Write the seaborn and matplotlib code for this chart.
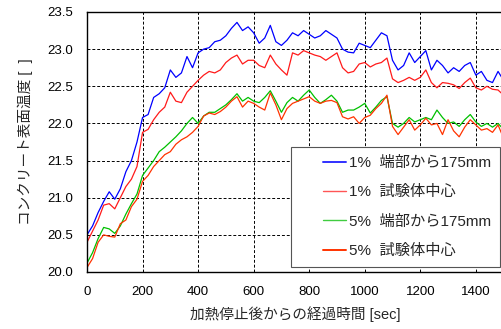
import numpy as np
import pandas as pd
import matplotlib
matplotlib.use("Agg")
import matplotlib.pyplot as plt
from matplotlib.lines import Line2D
from matplotlib.legend_handler import HandlerLine2D
import seaborn as sns

time_sec = list(range(0, 1501, 20))

edge_1pct = [20.50, 20.62, 20.80, 20.95, 21.08, 20.98, 21.12, 21.35, 21.50, 21.75,
             22.08, 22.12, 22.35, 22.40, 22.48, 22.72, 22.62, 22.68, 22.90, 22.75,
             22.95, 23.00, 23.02, 23.10, 23.12, 23.18, 23.28, 23.36, 23.25, 23.30,
             23.22, 23.08, 23.15, 23.32, 23.10, 23.05, 23.12, 23.22, 23.18, 23.25,
             23.20, 23.15, 23.18, 23.25, 23.20, 23.15, 23.00, 22.96, 22.95, 23.08,
             23.05, 23.02, 23.12, 23.22, 23.18, 22.85, 22.72, 22.78, 22.95, 22.82,
             22.90, 22.98, 22.72, 22.85, 22.78, 22.68, 22.75, 22.70, 22.78, 22.82,
             22.65, 22.70, 22.58, 22.55, 22.70, 22.58]

center_1pct = [20.40, 20.55, 20.70, 20.90, 20.92, 20.85, 21.00, 21.15, 21.25, 21.42,
               21.88, 21.92, 22.05, 22.15, 22.22, 22.42, 22.30, 22.28, 22.42, 22.50,
               22.58, 22.65, 22.70, 22.68, 22.72, 22.82, 22.88, 22.92, 22.80, 22.85,
               22.85, 22.78, 22.75, 22.92, 22.80, 22.72, 22.65, 22.95, 22.92, 22.98,
               22.95, 22.92, 22.90, 22.85, 22.90, 22.95, 22.75, 22.68, 22.70, 22.80,
               22.82, 22.76, 22.80, 22.82, 22.88, 22.60, 22.55, 22.58, 22.62, 22.58,
               22.62, 22.72, 22.55, 22.48, 22.55, 22.54, 22.52, 22.47, 22.55, 22.61,
               22.48, 22.45, 22.50, 22.46, 22.45, 22.38]

edge_5pct = [20.12, 20.26, 20.45, 20.60, 20.58, 20.52, 20.62, 20.78, 20.92, 21.05,
             21.30, 21.40, 21.50, 21.62, 21.68, 21.75, 21.82, 21.90, 22.00, 22.08,
             22.00, 22.10, 22.15, 22.15, 22.20, 22.25, 22.32, 22.40, 22.30, 22.35,
             22.30, 22.28, 22.35, 22.44, 22.30, 22.15, 22.28, 22.35, 22.30, 22.38,
             22.45, 22.35, 22.27, 22.32, 22.38, 22.30, 22.15, 22.18, 22.18, 22.22,
             22.27, 22.14, 22.22, 22.31, 22.36, 22.00, 21.95, 22.00, 22.08, 22.02,
             22.05, 22.08, 22.05, 22.18, 22.08, 22.00, 22.02, 21.96, 22.05, 22.12,
             22.02, 21.96, 22.00, 21.95, 22.00, 21.92]

center_5pct = [20.06, 20.18, 20.40, 20.50, 20.48, 20.47, 20.65, 20.70, 20.88, 20.98,
               21.22, 21.30, 21.42, 21.50, 21.58, 21.62, 21.72, 21.78, 21.82, 21.88,
               21.96, 22.10, 22.14, 22.12, 22.16, 22.22, 22.30, 22.36, 22.22, 22.30,
               22.27, 22.22, 22.18, 22.41, 22.25, 22.05, 22.20, 22.27, 22.30, 22.33,
               22.36, 22.30, 22.27, 22.30, 22.31, 22.28, 22.09, 22.06, 22.09, 22.00,
               22.08, 22.11, 22.20, 22.27, 22.38, 21.96, 21.85, 21.95, 22.05, 21.91,
               21.98, 22.07, 21.98, 22.00, 21.85, 22.05, 21.90, 21.82, 21.95, 22.05,
               21.98, 21.91, 21.93, 21.88, 21.98, 21.80]

series_labels = ["1%  端部から175mm", "1%  試験体中心", "5%  端部から175mm", "5%  試験体中心"]
x_ticks = [0, 200, 400, 600, 800, 1000, 1200, 1400]
y_ticks = [20.0, 20.5, 21.0, 21.5, 22.0, 22.5, 23.0, 23.5]

line_colors = ["#0000FF", "#FF1A1A", "#00C000", "#FF3300"]
legend_colors = ["#3030FF", "#FF5555", "#40CC40", "#FF3300"]
legend_widths = [1.4, 1.0, 1.0, 1.4]

df = pd.DataFrame({
    "time": time_sec * 4,
    "temp": edge_1pct + center_1pct + edge_5pct + center_5pct,
    "series": sum([[lab] * len(time_sec) for lab in series_labels], []),
})

sns.set_style("white")
plt.rcParams["font.family"] = ["Liberation Sans", "Noto Sans CJK JP", "DejaVu Sans"]

fig = plt.figure(figsize=(5.02, 3.29), dpi=100)
ax = fig.add_axes([87 / 502, 1 - 272 / 329, 416.6 / 502, 260 / 329])

sns.lineplot(data=df, x="time", y="temp", hue="series", hue_order=series_labels,
             palette=line_colors, linewidth=0.9, ax=ax, legend=False)

ax.set_xlim(0, 1500)
ax.set_ylim(20.0, 23.5)
ax.set_xticks(x_ticks)
ax.set_yticks(y_ticks)
ax.set_xticklabels([str(v) for v in x_ticks])
ax.set_yticklabels([f"{v:.1f}" for v in y_ticks])
ax.tick_params(direction="in", length=4, width=0.8, labelsize=9.5, colors="black",
               pad=10, top=False, right=False)
ax.grid(True, color="black", linestyle=(0, (3, 2)), linewidth=0.7)
for s in ax.spines.values():
    s.set_color("black")
    s.set_linewidth(1.0)

ax.set_xlabel("加熱停止後からの経過時間 [sec]", fontsize=10.5, labelpad=6)
ax.set_ylabel("コンクリート表面温度 [  ]", fontsize=10.5, labelpad=10)

handles = [Line2D([0], [0], color=c, lw=w) for c, w in zip(legend_colors, legend_widths)]
leg = ax.legend(handles, series_labels, loc="lower right", bbox_to_anchor=(0.991, 0.019),
                borderaxespad=0, fontsize=11, frameon=True, fancybox=False,
                framealpha=1, edgecolor="#555555", handlelength=3.0, handletextpad=0.15,
                labelspacing=1.0, borderpad=0.6,
                handler_map={Line2D: HandlerLine2D(xpad=1.45)})
leg.get_frame().set_linewidth(0.8)
leg.set_zorder(5)

fig.savefig("out.png", dpi=100)
